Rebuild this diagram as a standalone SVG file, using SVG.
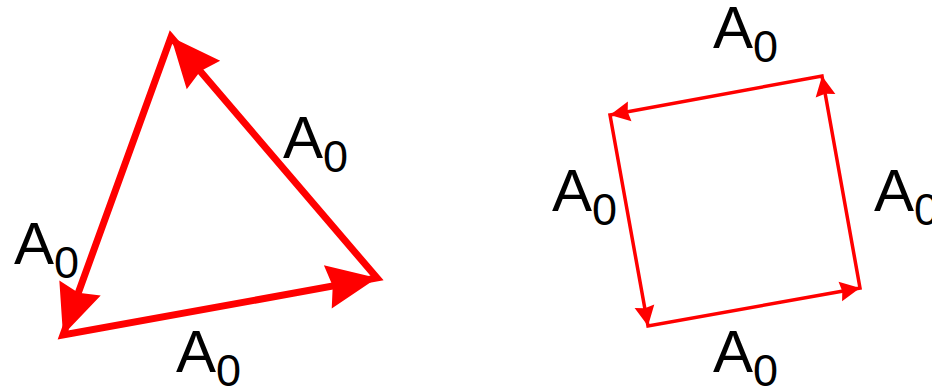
<svg xmlns="http://www.w3.org/2000/svg" xmlns:xlink="http://www.w3.org/1999/xlink" width="932" height="387" viewBox="0 0 932 387">
<style>
.edge{fill:none;stroke:#ff0000;stroke-linejoin:miter;stroke-miterlimit:10}
.big{stroke-width:7}
.small{stroke-width:3.5}
.head{fill:#ff0000}
.lbl{font-family:"Liberation Sans",Arial,sans-serif;font-size:60px;fill:#000}
.sub{font-size:45px}
</style>
<defs>
<path id="bighead" d="M0,0 L-50,-22 L-45,0 L-50,22 Z"/>
<path id="smallhead" d="M0,0 L-20,-10 L-18,0 L-20,10 Z"/>
</defs>
<g id="connectors">
<g id="triangle">
<polygon class="edge big" points="171,37 377,278 63,335"/>
<use xlink:href="#bighead" class="head" transform="translate(377,278) rotate(-10.29)"/>
<use xlink:href="#bighead" class="head" transform="translate(171,37) rotate(-130.5)"/>
<use xlink:href="#bighead" class="head" transform="translate(63,335) rotate(109.9)"/>
</g>
<g id="square">
<polygon class="edge small" points="610,115 822,76 860,288 648,326"/>
<use xlink:href="#smallhead" class="head" transform="translate(610,115) rotate(169.58)"/>
<use xlink:href="#smallhead" class="head" transform="translate(648,326) rotate(79.79)"/>
<use xlink:href="#smallhead" class="head" transform="translate(860,288) rotate(-10.16)"/>
<use xlink:href="#smallhead" class="head" transform="translate(822,76) rotate(-100.16)"/>
</g>
</g>
<g id="label-tri-right"><text class="lbl" x="283" y="158">A<tspan class="sub" dy="14">0</tspan></text></g>
<g id="label-tri-left"><text class="lbl" x="14" y="264">A<tspan class="sub" dy="14">0</tspan></text></g>
<g id="label-tri-bottom"><text class="lbl" x="176" y="372">A<tspan class="sub" dy="14">0</tspan></text></g>
<g id="label-sq-top"><text class="lbl" x="713" y="48">A<tspan class="sub" dy="14">0</tspan></text></g>
<g id="label-sq-left"><text class="lbl" x="552" y="211">A<tspan class="sub" dy="14">0</tspan></text></g>
<g id="label-sq-right"><text class="lbl" x="874" y="211">A<tspan class="sub" dy="14">0</tspan></text></g>
<g id="label-sq-bottom"><text class="lbl" x="713" y="372">A<tspan class="sub" dy="14">0</tspan></text></g>
</svg>
